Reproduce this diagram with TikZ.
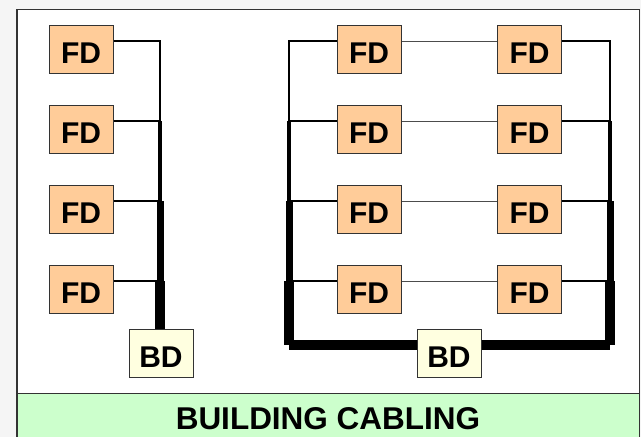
\documentclass[tikz,border=0pt]{standalone}
\usepackage{fontspec}
\setmainfont{Liberation Sans}
\definecolor{fdc}{HTML}{FFCC99}
\definecolor{bdc}{HTML}{FFFFE0}
\definecolor{bandc}{HTML}{CCFFCC}
\definecolor{pagec}{HTML}{F5F5F5}
\definecolor{edgec}{HTML}{333333}
\begin{document}
\begin{tikzpicture}[x=1pt,y=-1pt,
  box/.style={draw=edgec,line width=1pt,minimum width=64pt,minimum height=48pt,inner sep=0pt,text height=28pt,text depth=0pt,font=\fontsize{30}{30}\selectfont\bfseries},
  fdbox/.style={box,fill=fdc},
  bdbox/.style={box,fill=bdc},
  wa/.style={line width=2.5pt},
  wb/.style={line width=4.5pt},
  wc/.style={line width=7pt},
  wd/.style={line width=10pt},
  thin/.style={line width=1pt,draw=black!70},
]
\useasboundingbox (0,0) rectangle (641,437);
\fill[pagec] (0,0) rectangle (641,437);
% frame and band
\fill[white] (17,9.5) rectangle (639.5,445);
\fill[bandc] (17,393.5) rectangle (639.5,445);
\draw[edgec,line width=1.5pt] (17,445) -- (17,9.5) -- (639.5,9.5) -- (639.5,445);
\draw[edgec,line width=1.5pt] (17,393.5) -- (639.5,393.5);
\node[font=\fontsize{31.5}{31.5}\selectfont\bfseries] (title) at (328,418.5) {BUILDING CABLING};

% ---------- left: star ----------
\foreach \i/\y in {1/49,2/129,3/209,4/289}{
  \node[fdbox] (f\i) at (81,\y) {FD};
}
\node[bdbox] (bdl) at (161,353) {BD};
\coordinate (t1) at (160,41);
\coordinate (t2) at (160,121);
\coordinate (t3) at (160,201);
\coordinate (t4) at (160,281);
\draw[wa] (f1.east |- t1) -- (t1) -- (t2);
\draw[wa] (f2.east |- t2) -- (t2);
\draw[wa] (f3.east |- t3) -- (t3);
\draw[wa] (f4.east |- t4) -- (t4);
\draw[wb] (t2) -- (t3);
\draw[wc] (t3) -- (t4);
\draw[wd] (t4) -- (t4 |- bdl.north);

% ---------- right: ring ----------
\foreach \i/\y in {1/49,2/129,3/209,4/289}{
  \node[fdbox] (a\i) at (369,\y) {FD};
  \node[fdbox] (b\i) at (529.5,\y) {FD};
}
\coordinate (l1) at (289,41);
\coordinate (l2) at (289,121);
\coordinate (l3) at (289,201);
\coordinate (l4) at (289,281);
\coordinate (l5) at (289,345);
\coordinate (r1) at (610,41);
\coordinate (r2) at (610,121);
\coordinate (r3) at (610,201);
\coordinate (r4) at (610,281);
\coordinate (r5) at (610,345);
\draw[wa] (a1.west |- l1) -- (l1) -- (l2);
\draw[wa] (b1.east |- r1) -- (r1) -- (r2);
\foreach \i in {2,3,4}{
  \draw[wa] (a\i.west |- l\i) -- (l\i);
  \draw[wa] (b\i.east |- r\i) -- (r\i);
}
\foreach \i in {1,2,3,4}{
  \draw[thin] (a\i.east |- l\i) -- (b\i.west |- l\i);
}
\draw[wb] (l2) -- (l3);
\draw[wc] (l3) -- (l4);
\draw[wd] (l4) -- (l5);
\draw[wb] (r2) -- (r3);
\draw[wc] (r3) -- (r4);
\draw[wd] (r4) -- (r5);
\node[bdbox] (bdr) at (449,353) {BD};
\draw[wd] (l5) -- (bdr.west |- l5);
\draw[wd] (bdr.east |- r5) -- (r5);
\end{tikzpicture}
\end{document}
